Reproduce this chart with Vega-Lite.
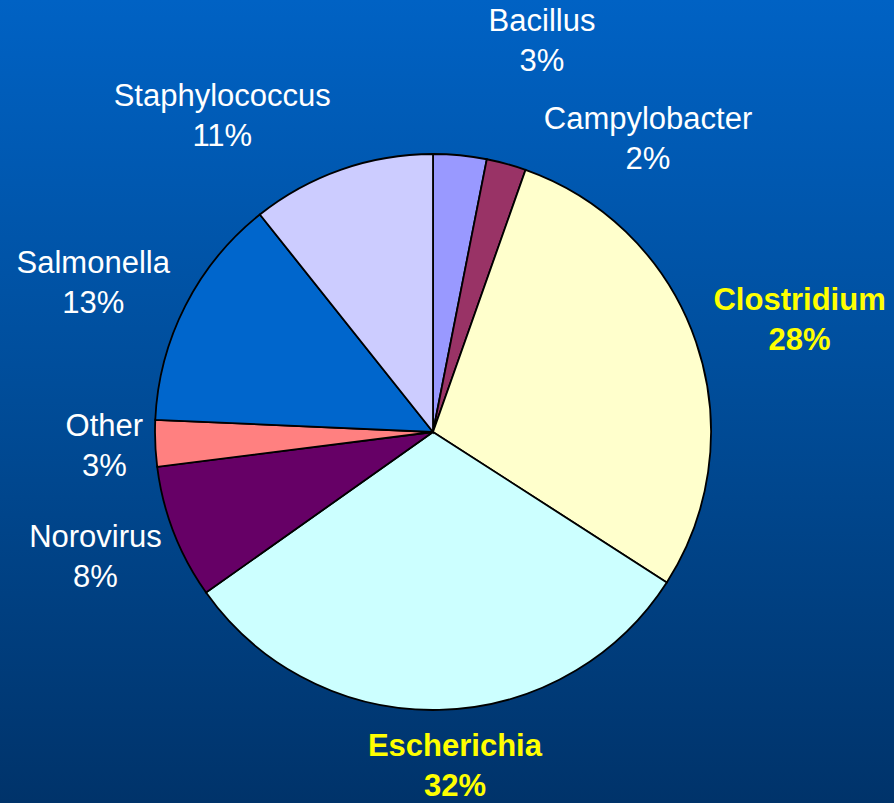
{
  "$schema": "https://vega.github.io/schema/vega-lite/v6.json",
  "width": 894,
  "height": 803,
  "autosize": {"type": "none"},
  "padding": 0,
  "background": "#004a98",
  "config": {"view": {"stroke": null}},
  "data": {
    "values": [
      {"name": "Bacillus", "value": 3.1, "label": "Bacillus\n3%"},
      {"name": "Campylobacter", "value": 2.3, "label": "Campylobacter\n2%"},
      {"name": "Clostridium", "value": 28.7, "label": "Clostridium\n28%"},
      {"name": "Escherichia", "value": 31.1, "label": "Escherichia\n32%"},
      {"name": "Norovirus", "value": 7.8, "label": "Norovirus\n8%"},
      {"name": "Other", "value": 2.7, "label": "Other\n3%"},
      {"name": "Salmonella", "value": 13.6, "label": "Salmonella\n13%"},
      {"name": "Staphylococcus", "value": 10.7, "label": "Staphylococcus\n11%"}
    ]
  },
  "layer": [
    {
      "data": {"values": [{"bg": 1}]},
      "mark": {
        "type": "rect",
        "fill": {
          "gradient": "linear",
          "x1": 0, "y1": 0, "x2": 0, "y2": 1,
          "stops": [
            {"offset": 0, "color": "#0062c4"},
            {"offset": 0.5, "color": "#004c98"},
            {"offset": 1, "color": "#00336a"}
          ]
        }
      },
      "encoding": {}
    },
    {
      "mark": {
        "type": "arc",
        "outerRadius": 278,
        "stroke": "#000000",
        "strokeWidth": 1.8,
        "xOffset": -14,
        "yOffset": 30.5
      },
      "encoding": {
        "theta": {"field": "value", "type": "quantitative", "stack": true},
        "order": {"field": "name", "sort": "ascending"},
        "color": {
          "field": "name",
          "type": "nominal",
          "legend": null,
          "scale": {
            "domain": ["Bacillus", "Campylobacter", "Clostridium", "Escherichia", "Norovirus", "Other", "Salmonella", "Staphylococcus"],
            "range": ["#9999ff", "#993366", "#ffffcc", "#ccffff", "#660066", "#ff8080", "#0066cc", "#ccccff"]
          }
        }
      }
    },
    {
      "mark": {
        "type": "text",
        "radius": 360,
        "font": "Liberation Sans",
        "fontSize": 31,
        "letterSpacing": 0.5,
        "lineBreak": "\n",
        "lineHeight": 40,
        "align": "center",
        "baseline": "middle",
        "fontWeight": {"expr": "datum.name === 'Clostridium' || datum.name === 'Escherichia' ? 'bold' : 'normal'"},
        "dx": {"expr": "datum.name === 'Bacillus' ? 60 : datum.name === 'Campylobacter' ? 106 : datum.name === 'Clostridium' ? 12 : datum.name === 'Escherichia' ? 0 : datum.name === 'Norovirus' ? -16 : datum.name === 'Other' ? 17 : datum.name === 'Salmonella' ? -33 : -106"},
        "dy": {"expr": "datum.name === 'Bacillus' ? -21 : datum.name === 'Campylobacter' ? 66 : datum.name === 'Clostridium' ? 16 : datum.name === 'Escherichia' ? -14 : datum.name === 'Norovirus' ? 6 : datum.name === 'Other' ? 11 : datum.name === 'Salmonella' ? 26 : 35"}
      },
      "encoding": {
        "theta": {"field": "value", "type": "quantitative", "stack": true},
        "order": {"field": "name", "sort": "ascending"},
        "detail": {"field": "name", "type": "nominal"},
        "text": {"field": "label", "type": "nominal"},
        "color": {
          "condition": {"test": "datum.name === 'Clostridium' || datum.name === 'Escherichia'", "value": "#ffff00"},
          "value": "#ffffff"
        }
      }
    }
  ]
}
